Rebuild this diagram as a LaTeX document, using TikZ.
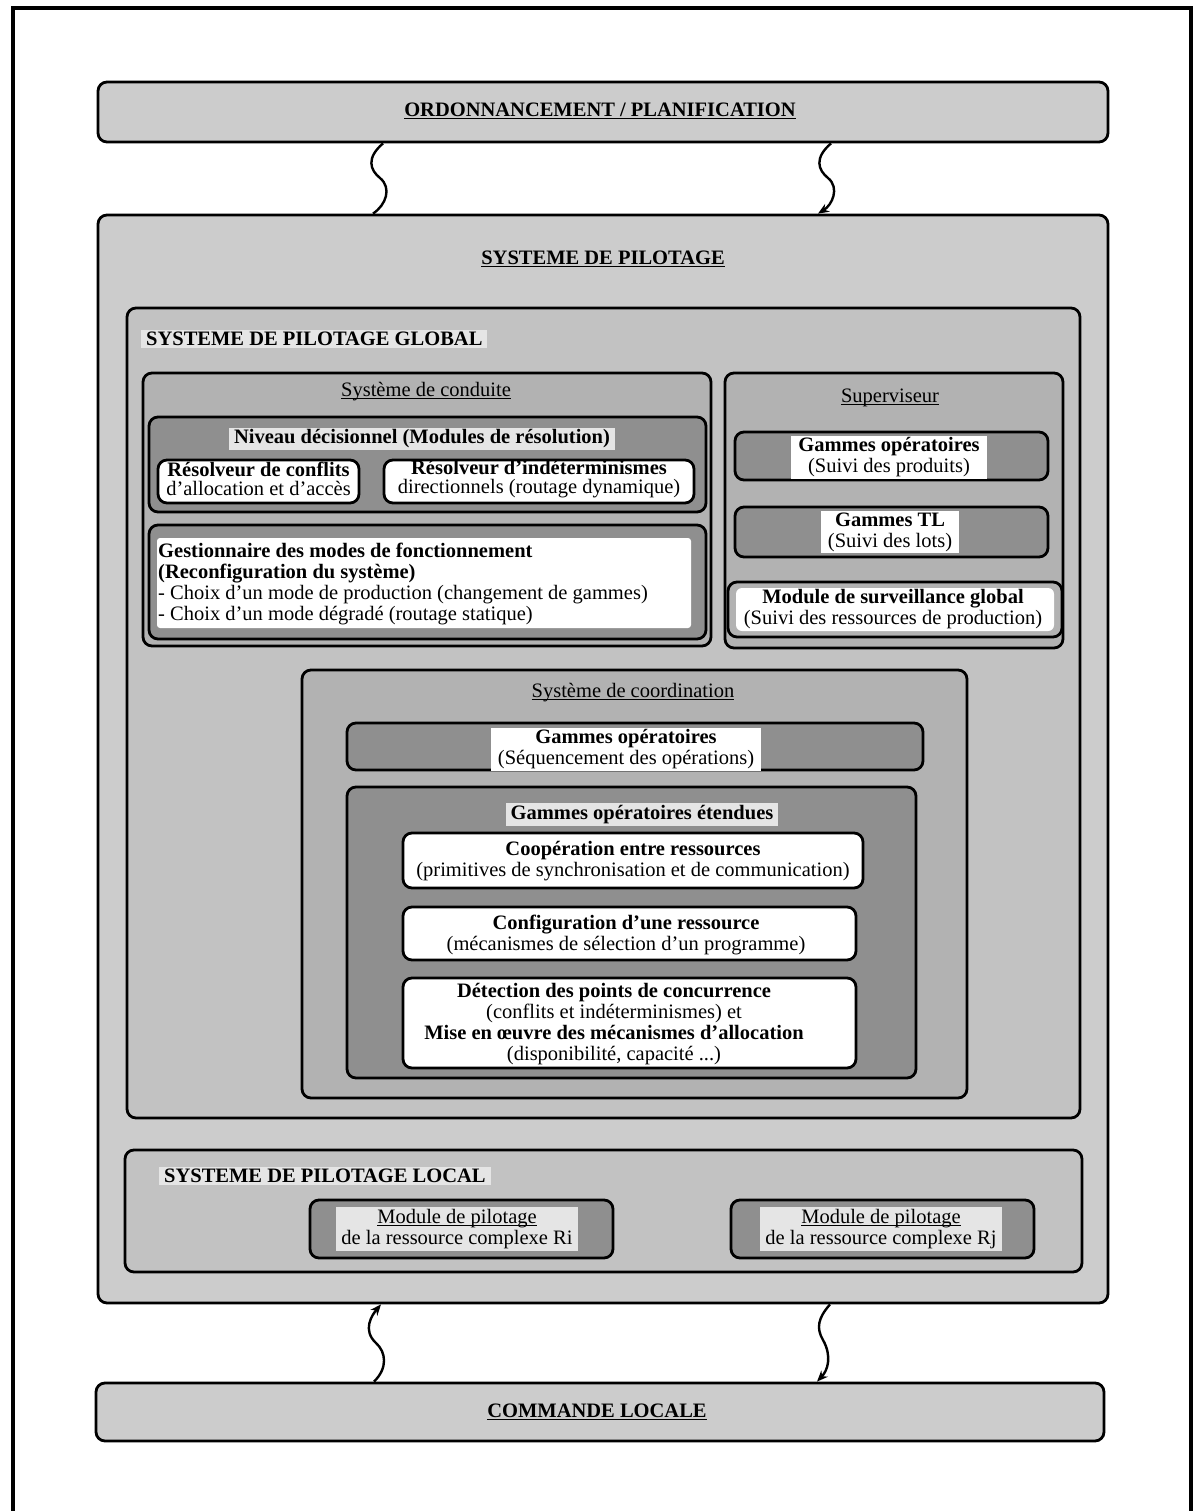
\documentclass[tikz,border=0pt]{standalone}
\usepackage{fontspec}
\setmainfont{Liberation Serif}
\usetikzlibrary{arrows.meta}

\definecolor{shL}{gray}{0.80}
\definecolor{shG}{gray}{0.76}
\definecolor{shM}{gray}{0.70}
\definecolor{shD}{gray}{0.56}
\definecolor{shT}{gray}{0.90}

\newcommand\fsz{\fontsize{20.5}{21}\selectfont}
\newcommand\ulx[1]{\vphantom{#1}\underline{\smash{#1}}}

\tikzset{
  box/.style={draw, line width=2.8pt, rounded corners=9pt, inner sep=0pt},
  wbox/.style={box, fill=white},
  lbl/.style={font=\fsz, align=center, inner sep=0pt},
  lblL/.style={font=\fsz, align=left, inner sep=0pt},
  band/.style={lbl, fill=white, inner xsep=7pt, inner ysep=2pt},
  tband/.style={lbl, fill=shT, inner xsep=5pt, inner ysep=2pt},
  wave/.style={line width=2.4pt},
  wavetip/.style={-{Stealth[length=11pt,width=9pt]}}
}

\begin{document}
\begin{tikzpicture}[x=1pt,y=-1pt]
\useasboundingbox (0,0) rectangle (1194,1511);

% page frame, open at the bottom
\draw[line width=3.5pt] (13,1511) -- (13,8) -- (1191,8) -- (1191,1511);

% upper level
\node[box, fill=shL, minimum width=1010pt, minimum height=60pt] (ord) at (603,112) {};
\node[lbl] (ordt) at (600,111) {\textbf{\ulx{ORDONNANCEMENT / PLANIFICATION}}};

% control system
\node[box, fill=shL, minimum width=1010pt, minimum height=1088pt] (sys) at (603,759) {};
\node[lbl] (syst) at (603,259) {\textbf{\ulx{SYSTEME DE PILOTAGE}}};

% global control
\node[box, fill=shG, minimum width=953pt, minimum height=810pt] (glob) at (603.5,713) {};
\node[tband, anchor=west] (globt) at (141,339) {\textbf{SYSTEME DE PILOTAGE GLOBAL}};

% conduct system
\node[box, fill=shM, minimum width=568pt, minimum height=273pt] (cond) at (427,509.5) {};
\node[lbl] (condt) at (426,392) {\ulx{Système de conduite}};

\node[box, fill=shD, minimum width=557pt, minimum height=95pt] (niv) at (427.5,464.5) {};
\node[tband] (nivt) at (422,439) {\textbf{Niveau décisionnel (Modules de résolution)}};
\node[wbox, minimum width=201pt, minimum height=43pt] (res1) at (258.5,481.5) {};
\node[lbl, font=\fontsize{20.5}{19}\selectfont] (res1t) at (258.5,479) {\textbf{Résolveur de conflits}\\d'allocation et d'accès};
\node[wbox, minimum width=310pt, minimum height=43pt] (res2) at (539,481.5) {};
\node[lbl, font=\fontsize{20.5}{19}\selectfont] (res2t) at (539,479) {\textbf{Résolveur d'indéterminismes}\\directionnels (routage dynamique)};

\node[box, fill=shD, minimum width=557pt, minimum height=114pt] (gest) at (427.5,582) {};
\node[fill=white, inner sep=0pt, rounded corners=3pt, minimum width=534pt, minimum height=90pt] (gestin) at (424,583) {};
\node[lblL, anchor=west] (gestt) at (158,583.5) {\textbf{Gestionnaire des modes de fonctionnement}\\\textbf{(Reconfiguration du système)}\\- Choix d'un mode de production (changement de gammes)\\- Choix d'un mode dégradé (routage statique)};

% supervisor
\node[box, fill=shM, minimum width=338pt, minimum height=275pt] (sup) at (894,510.5) {};
\node[lbl] (supt) at (890,398) {\ulx{Superviseur}};
\node[box, fill=shD, minimum width=313pt, minimum height=48pt] (gs1) at (891.5,456) {};
\node[band] (gs1t) at (889,457.5) {\textbf{Gammes opératoires}\\(Suivi des produits)};
\node[box, fill=shD, minimum width=313pt, minimum height=50pt] (gs2) at (891.5,532) {};
\node[band] (gs2t) at (890,532) {\textbf{Gammes TL}\\(Suivi des lots)};
\node[box, fill=shM, minimum width=334pt, minimum height=55pt] (gs3) at (895,609.5) {};
\node[fill=white, inner sep=0pt, rounded corners=6pt, minimum width=318pt, minimum height=43pt] (gs3in) at (895,609.5) {};
\node[lbl] (gs3t) at (893,609.5) {\textbf{Module de surveillance global}\\(Suivi des ressources de production)};

% coordination system
\node[box, fill=shM, minimum width=665pt, minimum height=428pt] (coord) at (634.5,884) {};
\node[lbl] (coordt) at (633,693) {\ulx{Système de coordination}};
\node[box, fill=shD, minimum width=576pt, minimum height=47pt] (gc1) at (635,746.5) {};
\node[band] (gc1t) at (626,749.5) {\textbf{Gammes opératoires}\\(Séquencement des opérations)};
\node[box, fill=shD, minimum width=569pt, minimum height=291pt] (ext) at (631.5,932.5) {};
\node[tband] (extt) at (642,814.5) {\textbf{Gammes opératoires étendues}};
\node[wbox, minimum width=460pt, minimum height=55pt] (coop) at (633,860.5) {};
\node[lbl] (coopt) at (633,861) {\textbf{Coopération entre ressources}\\(primitives de synchronisation et de communication)};
\node[wbox, minimum width=453pt, minimum height=53pt] (conf) at (629.5,933.5) {};
\node[lbl] (conft) at (626,934.5) {\textbf{Configuration d'une ressource}\\(mécanismes de sélection d'un programme)};
\node[wbox, minimum width=453pt, minimum height=90pt] (det) at (629.5,1023) {};
\node[lbl] (dett) at (614,1024) {\textbf{Détection des points de concurrence}\\(conflits et indéterminismes) et\\\textbf{Mise en œuvre des mécanismes d'allocation}\\(disponibilité, capacité ...)};

% local control
\node[box, fill=shG, minimum width=957pt, minimum height=122pt] (loc) at (603.5,1211) {};
\node[tband, anchor=west] (loct) at (159,1176) {\textbf{SYSTEME DE PILOTAGE LOCAL}};
\node[box, fill=shD, minimum width=303pt, minimum height=58pt] (mri) at (461.5,1229) {};
\node[tband] (mrit) at (457,1229) {\ulx{Module de pilotage}\\de la ressource complexe Ri};
\node[box, fill=shD, minimum width=303pt, minimum height=58pt] (mrj) at (882.5,1229) {};
\node[tband] (mrjt) at (881,1229) {\ulx{Module de pilotage}\\de la ressource complexe Rj};

% lower level
\node[box, fill=shL, minimum width=1008pt, minimum height=58pt] (cmd) at (600,1412) {};
\node[lbl] (cmdt) at (597,1412) {\textbf{\ulx{COMMANDE LOCALE}}};

% exchanges between levels
\draw[wave] ([xshift=-220pt]ord.south) .. controls (366,158) and (370,170) .. (380,178)
  .. controls (392,188) and (386,205) .. ([xshift=-230pt]sys.north);
\draw[wave, wavetip] ([xshift=228pt]ord.south) .. controls (814,158) and (818,170) .. (828,178)
  .. controls (840,188) and (832,205) .. ([xshift=215pt]sys.north);
\draw[wave, wavetip] ([xshift=-226pt]cmd.north) .. controls (388,1368) and (386,1352) .. (376,1343)
  .. controls (362,1330) and (372,1315) .. ([xshift=-222pt]sys.south);
\draw[wave, wavetip] ([xshift=227pt]sys.south) .. controls (818,1318) and (816,1328) .. (823,1340)
  .. controls (832,1356) and (828,1370) .. ([xshift=217pt]cmd.north);
\end{tikzpicture}
\end{document}
